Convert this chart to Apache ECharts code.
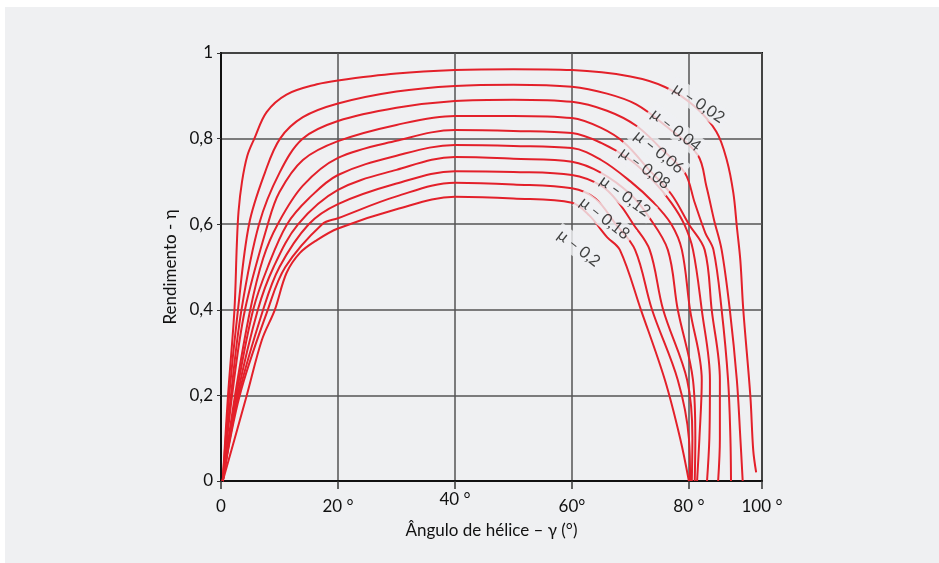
<!DOCTYPE html>
<html>
<head>
<meta charset="utf-8">
<script src="https://cdn.jsdelivr.net/npm/echarts@6/dist/echarts.min.js"></script>
<style>
html, body { margin: 0; padding: 0; background: #fff; }
#chart { position: absolute; left: 5px; top: 7px; width: 934px; height: 556px; background: #eff0f2; }
</style>
</head>
<body>
<div id="chart"></div>
<script>
// rendimento de parafuso vs angulo de helice, uma curva por coeficiente de atrito
var muValues = [0.02, 0.04, 0.06, 0.08, 0.10, 0.12, 0.14, 0.16, 0.18, 0.20];

var eta002 = [[0.3,0],[1.2,0.2],[2.3,0.4],[2.7,0.55],[3.0,0.63],[3.6,0.7],[4.5,0.76],[5.7,0.8],[7.8,0.862],[11.2,0.903],[16.4,0.927],[20,0.936],[30,0.952],[40,0.96],[50,0.962],[60,0.96],[70,0.945],[76,0.92],[81,0.875],[84.7,0.816],[86.5,0.749],[87.6,0.673],[88.2,0.594],[88.8,0.515],[89.3,0.4],[90.5,0.2],[91,0.072],[91.5,0.02]];
var eta004 = [[0.3,0],[1.4,0.2],[2.9,0.4],[4.8,0.6],[7.5,0.72],[10.1,0.8],[14,0.85],[20,0.882],[30,0.91],[40,0.923],[50,0.926],[60,0.921],[66,0.905],[71,0.88],[76,0.83],[81.5,0.762],[83,0.688],[84.3,0.61],[85.6,0.54],[87,0.4],[88.2,0.236],[88.8,0.1],[89.2,0]];
var eta006 = [[0.3,0],[1.7,0.2],[3.5,0.4],[6.5,0.6],[10,0.72],[14,0.8],[20,0.841],[30,0.872],[40,0.888],[50,0.891],[60,0.886],[66,0.865],[71,0.83],[75,0.78],[79.3,0.72],[81,0.65],[82.8,0.58],[84.2,0.54],[85.6,0.4],[86.7,0.236],[87.1,0.1],[87.2,0]];
var eta008 = [[0.3,0],[1.9,0.2],[4.1,0.4],[8,0.6],[10,0.675],[14,0.75],[20,0.794],[30,0.832],[40,0.853],[50,0.853],[60,0.848],[65,0.825],[69,0.79],[73,0.73],[77,0.67],[80,0.6],[82.7,0.54],[83.9,0.4],[85.3,0.236],[85.3,0.1],[85,0]];
var eta010 = [[0.3,0],[2.4,0.2],[5,0.4],[7.2,0.52],[9.7,0.6],[14,0.69],[20,0.755],[30,0.795],[40,0.82],[50,0.818],[60,0.813],[65,0.79],[70,0.75],[74,0.7],[77,0.65],[79.2,0.6],[80.7,0.54],[82.2,0.4],[83.6,0.236],[83.5,0.1],[83.1,0]];
var eta012 = [[0.3,0],[2.6,0.2],[5.5,0.4],[8,0.5],[11.3,0.6],[15,0.66],[20,0.715],[30,0.76],[40,0.785],[50,0.783],[60,0.778],[65,0.75],[70,0.7],[74,0.65],[77,0.6],[78.8,0.54],[80.2,0.4],[82.2,0.236],[81.8,0.1],[81.4,0]];
var eta014 = [[0.3,0],[2.8,0.2],[6.3,0.4],[9,0.5],[13.2,0.6],[20,0.68],[30,0.727],[40,0.757],[50,0.753],[60,0.746],[65,0.72],[70,0.67],[73,0.62],[76.4,0.54],[78.1,0.4],[80.7,0.236],[81.1,0.1],[81,0]];
var eta016 = [[0.3,0],[3,0.2],[7.2,0.4],[10,0.5],[15,0.6],[20,0.647],[30,0.695],[40,0.724],[50,0.722],[60,0.715],[65,0.69],[68,0.65],[70.5,0.6],[73.3,0.54],[75.6,0.4],[79.7,0.236],[80.6,0.1],[80.5,0]];
var eta018 = [[0.3,0],[3.2,0.2],[8,0.4],[11,0.5],[17.3,0.6],[20,0.614],[30,0.665],[40,0.697],[50,0.693],[60,0.684],[64,0.66],[67.5,0.6],[70.8,0.54],[73.7,0.4],[78.1,0.236],[80,0.1],[80.2,0]];
var eta020 = [[0.3,0],[4.4,0.2],[7,0.33],[9.2,0.4],[11.2,0.486],[13.5,0.533],[16.4,0.563],[20,0.59],[30,0.635],[40,0.664],[50,0.66],[60,0.65],[63,0.62],[66,0.57],[68.2,0.54],[71.8,0.4],[75.9,0.236],[78.5,0.1],[80,0]];

var curves = [eta002, eta004, eta006, eta008, eta010, eta012, eta014, eta016, eta018, eta020];

// rotulos das curvas (posicao em graus / rendimento)
var curveLabelText = ['μ – 0,02', 'μ – 0,04', 'μ – 0,06', 'μ – 0,08', 'μ – 0,12', 'μ – 0,18', 'μ – 0,2'];
var curveLabelX = [81.7, 77.8, 74.9, 72.5, 69.1, 65.6, 61.2];
var curveLabelY = [0.883, 0.820, 0.769, 0.731, 0.666, 0.614, 0.544];
var curveLabelAngle = [-34, -38, -39, -37, -36, -38, -38];

var xTickValues = [0, 20, 40, 60, 80, 92.5];
var xTickLabels = ['0', '20 °', '40 °', '60°', '80 °', '100 °'];

var chart = echarts.init(document.getElementById('chart'));

var series = curves.map(function (c, i) {
  return {
    name: 'μ ' + muValues[i],
    type: 'line',
    data: c,
    showSymbol: false,
    smooth: 0.35,
    lineStyle: { color: '#e3202a', width: 2 },
    z: 3,
    silent: true
  };
});

series.push({
  type: 'scatter',
  symbolSize: 1,
  itemStyle: { color: 'rgba(0,0,0,0)' },
  z: 10,
  silent: true,
  data: curveLabelX.map(function (x, i) {
    return {
      value: [x, curveLabelY[i]],
      label: { rotate: curveLabelAngle[i] }
    };
  }),
  label: {
    show: true,
    position: 'inside',
    formatter: function (p) { return curveLabelText[p.dataIndex]; },
    color: '#111',
    fontFamily: 'Lato',
    fontSize: 16,
    backgroundColor: '#eff0f2',
    padding: [2, 4]
  }
});

chart.setOption({
  animation: false,
  textStyle: { fontFamily: 'Lato' },
  grid: {
    left: 216, right: 177, top: 46, bottom: 82,
    show: true, borderColor: '#111', borderWidth: 2
  },
  xAxis: {
    type: 'value',
    min: 0,
    max: 92.5,
    name: 'Ângulo de hélice – γ (°)',
    nameLocation: 'middle',
    nameGap: 39,
    nameTextStyle: { fontSize: 17, color: '#111', fontFamily: 'Lato' },
    axisLine: { lineStyle: { color: '#111', width: 2 } },
    axisTick: { customValues: xTickValues, length: 8, lineStyle: { color: '#333', width: 1.5 } },
    axisLabel: {
      customValues: xTickValues,
      color: '#111',
      fontSize: 17,
      lineHeight: 20,
      verticalAlign: 'bottom',
      margin: 36,
      formatter: function (v) {
        var i = xTickValues.indexOf(v);
        if (i < 0) return '';
        // o rotulo de 40 fica um pouco mais alto no original
        return v === 40 ? xTickLabels[i] + '\n{gap| }' : xTickLabels[i];
      },
      rich: { gap: { fontSize: 2, lineHeight: 7 } }
    },
    splitLine: { show: true, lineStyle: { color: '#555', width: 1.5 } }
  },
  yAxis: {
    type: 'value',
    min: 0,
    max: 1,
    interval: 0.2,
    name: 'Rendimento - η',
    nameLocation: 'middle',
    nameGap: 42,
    nameTextStyle: { fontSize: 17, color: '#111', fontFamily: 'Lato' },
    axisLine: { show: true, lineStyle: { color: '#111', width: 2 } },
    axisTick: { show: true, length: 4, lineStyle: { color: '#333' } },
    axisLabel: {
      color: '#111',
      fontSize: 17,
      margin: 8,
      formatter: function (v) {
        return String(Math.round(v * 10) / 10).replace('.', ',');
      }
    },
    splitLine: { show: true, lineStyle: { color: '#555', width: 1.5 } }
  },
  series: series
});
</script>
</body>
</html>
